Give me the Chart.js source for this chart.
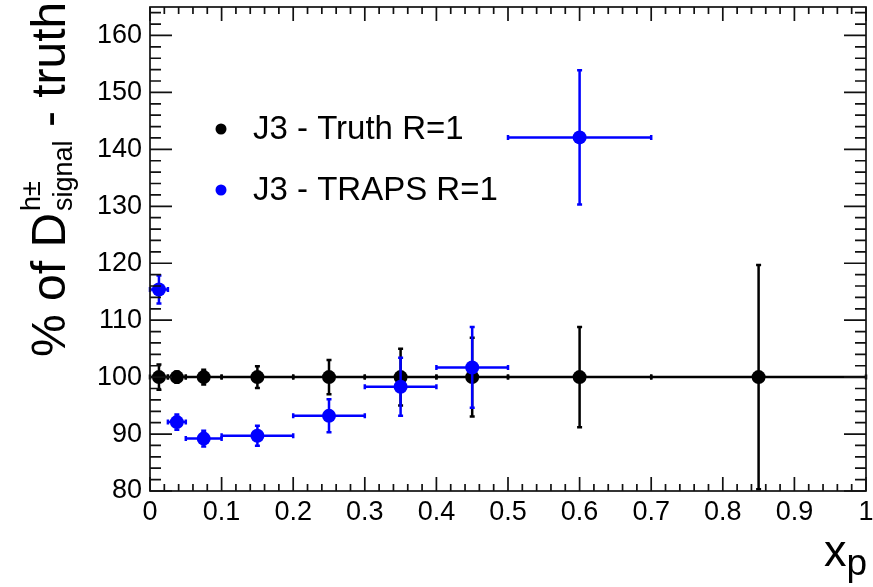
<!DOCTYPE html>
<html>
<head>
<meta charset="utf-8">
<script src="https://cdn.jsdelivr.net/npm/chart.js@4.4.1/dist/chart.umd.min.js"></script>
<style>
  html, body { margin: 0; padding: 0; background: #fff; }
</style>
</head>
<body>
<canvas id="xpChart" width="873" height="587"></canvas>
<script>
// x_p bins
const binLow     = [0, 0.025, 0.05, 0.1, 0.2, 0.3, 0.4, 0.5, 0.7];
const binHigh    = [0.025, 0.05, 0.1, 0.2, 0.3, 0.4, 0.5, 0.7, 1.0];
const binCenters = [0.0125, 0.0375, 0.075, 0.15, 0.25, 0.35, 0.45, 0.6, 0.85];

// J3 - Truth R=1
const truthValues = [100, 100, 100, 100, 100, 100, 100, 100, 100];
const truthErrors = [2.2, 1.0, 1.3, 1.9, 3.0, 5.0, 6.9, 8.8, 19.7];

// J3 - TRAPS R=1 (no entry in the last bin)
const trapsValues = [115.4, 92.1, 89.2, 89.7, 93.2, 98.3, 101.7, 142.1];
const trapsErrors = [2.45, 1.35, 1.4, 1.75, 2.9, 5.1, 7.1, 11.8];

const FONT = '"Liberation Sans", Arial, Helvetica, sans-serif';

function points(values, errors) {
  return values.map((v, i) => ({
    x: binCenters[i], y: v, xl: binLow[i], xh: binHigh[i], err: errors[i]
  }));
}

// error bars with small end caps, drawn under each dataset's markers
const errorBars = {
  id: 'errorBars',
  beforeDatasetDraw(chart, args) {
    const ds = chart.data.datasets[args.index];
    const xs = chart.scales.x, ys = chart.scales.y;
    const ctx = chart.ctx;
    const cap = 2.5;
    ctx.save();
    ctx.strokeStyle = ds.borderColor;
    ctx.lineWidth = 2.5;
    ds.data.forEach(p => {
      const px = xs.getPixelForValue(p.x), py = ys.getPixelForValue(p.y);
      const x1 = xs.getPixelForValue(p.xl), x2 = xs.getPixelForValue(p.xh);
      const y1 = ys.getPixelForValue(Math.min(p.y + p.err, ys.max));
      const y2 = ys.getPixelForValue(Math.max(p.y - p.err, ys.min));
      ctx.beginPath();
      ctx.moveTo(x1, py); ctx.lineTo(x2, py);
      ctx.moveTo(px, y1); ctx.lineTo(px, y2);
      ctx.moveTo(x1, py - cap); ctx.lineTo(x1, py + cap);
      ctx.moveTo(x2, py - cap); ctx.lineTo(x2, py + cap);
      ctx.moveTo(px - cap, y1); ctx.lineTo(px + cap, y1);
      ctx.moveTo(px - cap, y2); ctx.lineTo(px + cap, y2);
      ctx.stroke();
    });
    ctx.restore();
  }
};

// frame with inward ticks on all four sides, titles and legend
const frame = {
  id: 'frame',
  afterDraw(chart) {
    const ctx = chart.ctx;
    const xs = chart.scales.x, ys = chart.scales.y;
    const a = chart.chartArea;
    ctx.save();
    ctx.strokeStyle = '#111';
    ctx.lineWidth = 1.7;
    ctx.strokeRect(a.left, a.top, a.right - a.left, a.bottom - a.top);

    ctx.beginPath();
    for (let i = 0; i <= 50; i++) {
      const v = i / 50;
      const px = xs.getPixelForValue(v);
      const len = i % 5 === 0 ? 14 : 7;
      ctx.moveTo(px, a.bottom); ctx.lineTo(px, a.bottom - len);
      ctx.moveTo(px, a.top); ctx.lineTo(px, a.top + len);
    }
    for (let v = 80; v <= 164; v += 2) {
      const py = ys.getPixelForValue(v);
      const len = v % 10 === 0 ? 22 : 11;
      ctx.moveTo(a.left, py); ctx.lineTo(a.left + len, py);
      ctx.moveTo(a.right, py); ctx.lineTo(a.right - len, py);
    }
    ctx.stroke();

    // y title: % of D^{h±}_{signal} - truth
    ctx.fillStyle = '#000';
    ctx.translate(65, 357);
    ctx.rotate(-Math.PI / 2);
    ctx.textBaseline = 'alphabetic';
    ctx.textAlign = 'left';
    ctx.font = '48px ' + FONT;
    const head = '% of D';
    ctx.fillText(head, 0, 0);
    let off = ctx.measureText(head).width + 2;
    ctx.font = '27px ' + FONT;
    ctx.fillText('h\u00b1', off, -25);
    ctx.fillText('signal', off, 7);
    off += ctx.measureText('signal').width;
    ctx.font = '48px ' + FONT;
    ctx.fillText(' - truth', off, 0);
    ctx.restore();

    // x title: x_p
    ctx.save();
    ctx.fillStyle = '#000';
    ctx.textBaseline = 'alphabetic';
    ctx.font = '37px ' + FONT;
    const pw = ctx.measureText('p').width;
    ctx.fillText('p', 867 - pw, 575);
    ctx.font = '45px ' + FONT;
    const xw = ctx.measureText('x').width;
    ctx.fillText('x', 867 - pw - xw, 566);
    ctx.restore();

    // legend
    ctx.save();
    const rows = [129, 190];
    chart.data.datasets.forEach((ds, i) => {
      ctx.fillStyle = ds.backgroundColor;
      ctx.beginPath();
      ctx.arc(221, rows[i], 5.5, 0, Math.PI * 2);
      ctx.fill();
      ctx.fillStyle = '#000';
      ctx.font = '33px ' + FONT;
      ctx.textBaseline = 'middle';
      ctx.fillText(ds.label, 253, rows[i] + 1);
    });
    ctx.restore();
  }
};

new Chart(document.getElementById('xpChart'), {
  type: 'scatter',
  data: {
    datasets: [
      {
        label: 'J3 - Truth R=1',
        data: points(truthValues, truthErrors),
        borderColor: '#000000',
        backgroundColor: '#000000',
        pointRadius: 7,
        pointBorderWidth: 0,
        order: 1
      },
      {
        label: 'J3 - TRAPS R=1',
        data: points(trapsValues, trapsErrors),
        borderColor: '#0000ff',
        backgroundColor: '#0000ff',
        pointRadius: 7,
        pointBorderWidth: 0,
        order: 0
      }
    ]
  },
  options: {
    responsive: false,
    animation: false,
    layout: { padding: { top: 5, right: 6, left: 0, bottom: 0 } },
    plugins: {
      legend: { display: false },
      tooltip: { enabled: false }
    },
    scales: {
      x: {
        type: 'linear',
        min: 0,
        max: 1,
        grid: { display: false, drawTicks: false },
        border: { display: false },
        ticks: {
          stepSize: 0.1,
          padding: 5,
          color: '#000',
          font: { family: FONT, size: 27 },
          maxRotation: 0,
          callback: v => String(Number(v.toFixed(1)))
        },
        afterFit(s) { s.height = 96; s.paddingLeft = 0; s.paddingRight = 0; }
      },
      y: {
        type: 'linear',
        min: 80,
        max: 165,
        grid: { display: false, drawTicks: false },
        border: { display: false },
        ticks: {
          stepSize: 10,
          includeBounds: false,
          padding: 8,
          color: '#000',
          font: { family: FONT, size: 27 }
        },
        afterFit(s) { s.width = 150; s.paddingTop = 0; s.paddingBottom = 0; }
      }
    }
  },
  plugins: [errorBars, frame]
});
</script>
</body>
</html>
